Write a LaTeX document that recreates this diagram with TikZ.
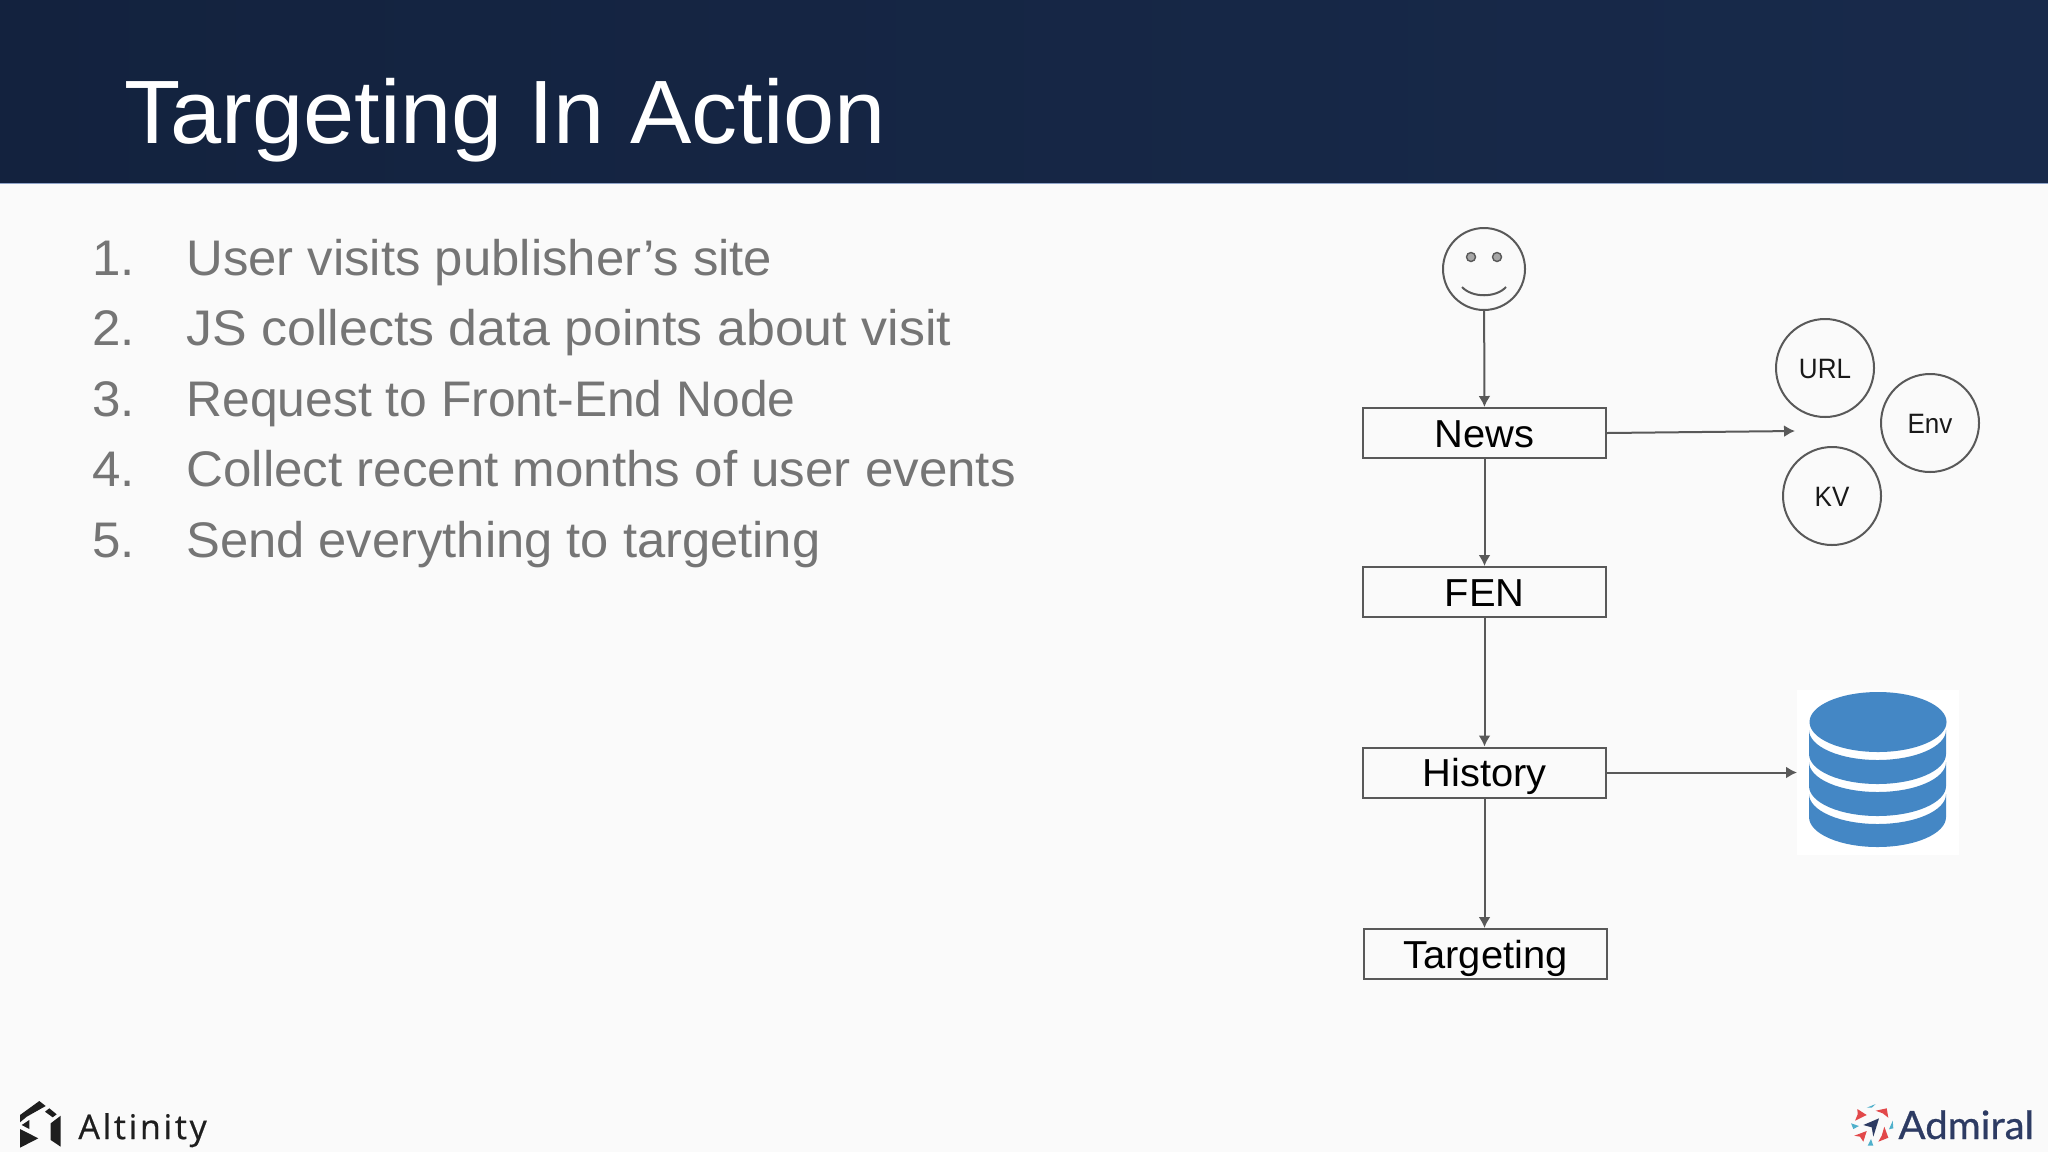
\documentclass[tikz,border=0pt]{standalone}
\usepackage{fontspec}
\setmainfont[FakeStretch=1.022]{Liberation Sans}
\newfontfamily\bubblefont[FakeStretch=0.93]{Liberation Sans}
\newfontfamily\altfont[LetterSpace=8,FakeBold=0.6]{Open Sans}
\newfontfamily\admfont[FakeBold=0.7,FakeStretch=1.03]{Lato}
\usetikzlibrary{arrows.meta}
\definecolor{pagebg}{HTML}{FAFAFA}
\definecolor{headbg}{HTML}{13223E}
\definecolor{headbgR}{HTML}{182A4B}
\definecolor{headline}{HTML}{8FA3C8}
\definecolor{listgrey}{HTML}{757575}
\definecolor{linegrey}{HTML}{595959}
\definecolor{dbblue}{HTML}{4487C5}
\definecolor{altdark}{HTML}{1E1E1E}
\definecolor{admnavy}{HTML}{2D3B63}
\definecolor{admred}{HTML}{E2484A}
\definecolor{admteal}{HTML}{4FB0CB}
\newcommand{\dbband}[2]{
	\fill [dbblue] (1809,#1) arc [start angle=180,end angle=360,x radius=34.25pt,y radius=15pt]
		-- (1946,#2) arc [start angle=0,end angle=-180,x radius=34.25pt,y radius=15pt] -- cycle;
}
\begin{document}
\begin{tikzpicture}[
	x=0.5pt,y=-0.5pt,
	box/.style={draw=linegrey,line width=1pt,minimum width=121.5pt,minimum height=25pt,inner sep=0pt,text height=14.5pt,text depth=0.5pt,font=\fontsize{19.5}{22}\selectfont,text=black},
	bubble/.style={circle,draw=linegrey,line width=1pt,minimum size=49pt,inner sep=0pt,text height=10.5pt,text depth=0.5pt,font=\bubblefont\fontsize{14}{16}\selectfont,text=black!90},
	flow/.style={draw=linegrey,line width=1pt,-{Latex[length=5.5pt,width=6pt]}},
	item/.style={anchor=base west,inner sep=0pt,text=listgrey,font=\fontsize{25}{30}\selectfont},
	eye/.style={circle,draw=linegrey,fill=black!35,line width=0.7pt,minimum size=4.5pt,inner sep=0pt},
	]
\useasboundingbox (0,0) rectangle (2048,1152);
\fill [pagebg] (0,0) rectangle (2048,1152);
\shade [left color=headbg,right color=headbgR] (0,0) rectangle (2048,183);
\draw [headline,line width=0.4pt] (0,183) -- (2048,183);
\node (title) [anchor=base west,inner sep=0pt,text=white,font=\fontsize{45}{50}\selectfont] at (124,143) {Targeting In Action};
% list
\foreach \n/\y/\w/\t in {1/275.5/0.995/User visits publisher’s site,2/345/1.016/JS collects data points about visit,3/416.5/0.975/Request to Front-End Node,4/486.5/1/Collect recent months of user events,5/557/0.992/Send everything to targeting} {
	\node (num\n) [item] at (92,\y) {\n.};
	\node (line\n) [item] at (186,\y) {\scalebox{\w}[1]{\t}};
}
% face
\node (face) [circle,draw=linegrey,line width=1pt,minimum size=41pt,inner sep=0pt] at (1484,269) {};
\node (eyeL) [eye] at (1471,257) {};
\node (eyeR) [eye] at (1497,257) {};
\draw [linegrey,line width=1pt] (1462,287) .. controls (1472,298) and (1496,298) .. (1506,287);
% boxes
\node (news) [box] at (1484.5,433) {News};
\node (fen) [box] at (1484.5,592) {FEN};
\node (history) [box] at (1484.5,772.5) {History};
\node (targeting) [box] at (1485.5,954) {Targeting};
% bubbles
\node (url) [bubble] at (1825,368) {URL};
\node (env) [bubble] at (1930,423) {Env};
\node (kv) [bubble] at (1832,496) {KV};
\coordinate (bubbles) at (1795,431);
% database
\node (dbbox) [fill=white,minimum width=81pt,minimum height=82.5pt,inner sep=0pt,anchor=north west] at (1797,690) {};
\fill [dbblue] (1878,722) ellipse [x radius=34.25pt,y radius=15pt];
\dbband{730}{754}
\dbband{762}{786}
\dbband{794}{817}
% arrows
\draw [flow] (face) -- (news);
\draw [flow] (news) -- (fen);
\draw [flow] (fen) -- (history);
\draw [flow] (history.south) -- (targeting.north -| history.south);
\draw [flow] (news.east) -- (bubbles);
\draw [flow] (history.east) -- (dbbox.west |- history.east);
% logos
\fill [altdark] (20,1115) -- (39.3,1101) -- (45.7,1106) -- (26.7,1116.7) -- (20,1122.3) -- cycle;
\fill [altdark] (45,1111.7) -- (49.3,1108.3) -- (56.7,1114.3) -- (52.7,1117.3) -- cycle;
\fill [altdark] (50.7,1123.3) -- (60.7,1115.7) -- (60.7,1146.7) -- (50.7,1140) -- cycle;
\fill [altdark] (20,1129) -- (38.3,1138.3) -- (20,1147.7) -- cycle;
\fill [altdark] (21.7,1125) -- (29.3,1120) -- (29.3,1129) -- cycle;
\node (altinity) [anchor=base west,inner sep=0pt,text=altdark,font=\altfont\fontsize{17}{20}\selectfont] at (78,1139) {Altinity};
\fill [admnavy] (1863.3,1125) -- (1879,1118.3) -- (1873.3,1136.7) -- (1871.7,1127.3) -- cycle;
\fill [admred] (1857.3,1109) -- (1866.7,1115) -- (1855,1120.7) -- (1857.7,1114.3) -- cycle;
\fill [admred] (1875.7,1110.7) -- (1886.7,1108.3) -- (1888.3,1117.7) -- (1882.7,1113.3) -- cycle;
\fill [admred] (1884.3,1126.7) -- (1888.3,1137.7) -- (1878.3,1141.7) -- (1881.7,1135.7) -- cycle;
\fill [admred] (1854.3,1135.7) -- (1866.7,1131) -- (1863.3,1141.7) -- (1860,1136.7) -- cycle;
\fill [admteal] (1866.7,1107.7) -- (1875.7,1104) -- (1871.7,1107.7) -- cycle;
\fill [admteal] (1851,1123.3) -- (1859,1126) -- (1853.3,1129) -- cycle;
\fill [admteal] (1892.7,1120.7) -- (1893.3,1128.3) -- (1889,1129.3) -- cycle;
\fill [admteal] (1871,1139) -- (1873.3,1145.7) -- (1867.7,1145.7) -- cycle;
\node (admiral) [anchor=base west,inner sep=0pt,text=admnavy,font=\admfont\fontsize{19.5}{22}\selectfont] at (1898,1139) {Admiral};
\end{tikzpicture}
\end{document}
